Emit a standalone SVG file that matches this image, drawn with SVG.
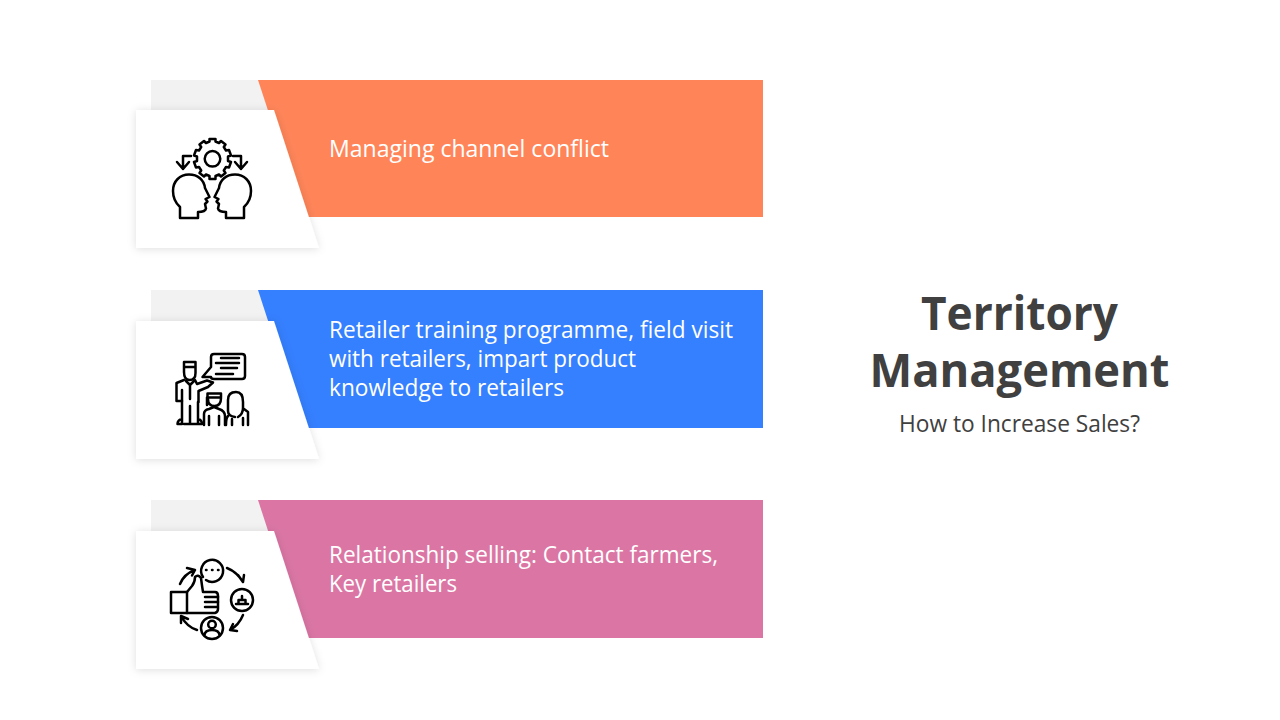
<svg xmlns="http://www.w3.org/2000/svg" width="1280" height="720" viewBox="0 0 1280 720">
<style>
.back{fill:#f2f2f2}
.card{fill:#fff;filter:url(#sh)}
.body{font-family:"Open Sans","Noto Sans",sans-serif;font-size:23px;fill:#fff}
.title{font-family:"Open Sans","Noto Sans",sans-serif;font-size:46px;font-weight:700;fill:#404040;text-anchor:middle}
.sub{font-family:"Open Sans","Noto Sans",sans-serif;font-size:23px;fill:#404040;text-anchor:middle}
.ic{fill:none;stroke:#000;stroke-width:2.500;stroke-linejoin:round;stroke-linecap:round}
</style>
<defs>
<filter id="sh" x="-20%" y="-20%" width="140%" height="140%"><feDropShadow dx="0" dy="1" stdDeviation="4" flood-color="#000" flood-opacity="0.13"/></filter>
<path id="head" d="M180 218V207C175.500 203 173 197 173 191C173 181 180 174.500 189 174.500C198 174.500 204 180 205 188L209.500 197L205.500 199L207.500 201.500L205 204L206 208.500C205.500 211 203 212 198 212V218Z"/>
</defs>
<rect width="1280" height="720" fill="#fff"/>

<g id="node-1">
<rect class="back" x="151" y="80" width="125" height="40"/>
<polygon points="258,80 763,80 763,217 303,217" fill="#ff8559"/>
<polygon class="card" points="136,110 274,110 319,248 136,248"/>
<g class="ic">
<path d="M228 161L231 162L229 167.500L226 167L223.800 170.500L225.500 173L221 176.500L219 174.500L215.500 176V179H209.500V176L206 174.500L204 176.500L199.500 173L201.200 170.500L199 167L196 167.500L194 162L197 161V156.500L194 155.500L196 150L199 150.500L201.200 147L199.500 144.500L204 141L206 143L209.500 141.500V139H215.500V141.500L219 143L221 141L225.500 144.500L223.800 147L226 150.500L229 150L231 155.500L228 156.500Z"/>
<circle cx="212.500" cy="158.800" r="7.800"/>
<use href="#head"/>
<use href="#head" transform="matrix(-1 0 0 1 424 0)"/>
<path d="M191 156H183V169M177 162L183 169L189 162"/>
<path d="M233 156H241V169M235 162L241 169L247 162"/>
</g>
<text class="body" x="329" y="157" textLength="280" lengthAdjust="spacingAndGlyphs">Managing channel conflict</text>
</g>

<g id="node-2">
<rect class="back" x="151" y="290" width="125" height="41"/>
<polygon points="258,290 763,290 763,428 303,428" fill="#3580ff"/>
<polygon class="card" points="136,321 274,321 319,459 136,459"/>
<g class="ic">
<path d="M211 367V357Q211 354 214 354H242Q245 354 245 357V376Q245 379 242 379H214Q211 379 211 377H202.500L211 367Z"/>
<path d="M221 358H239M216 363H239M221 368H237M216 374H233"/>
<path d="M184 372V362H195.500V367H184M195.500 367V373Q195.500 380 189.500 380Q184 380 184 372"/>
<path d="M184 380L176.500 383V401H182V390M195 380L197 384L207 380.500L213 382.500L208 387L198.500 391V402"/>
<path d="M186 381L190 385L194 381M190 385V399"/>
<path d="M182 401V424M198 402V424M190 406V424M182 424H177.500Q177.500 420 182 419M190 424H184M190 424H193M198 419Q202 420 202 424H193"/>
<path d="M207 405V397.500H221V393.500H207.500V397.500M208 399Q208 406 214.500 406Q221 406 221 398"/>
<path d="M204 425V414Q204 410 209 409L214 407L219 409Q225 411 225 416V425M209 416V425M219 416V425"/>
<path d="M228 411V400Q228 392 236 392Q243 392 243 402V408M228 411Q228 416 235 417M238 417Q243 414 243 408"/>
<path d="M244 409L248 412V425M228 416Q226 418 226 425M232 419V425M243 418V425"/>
</g>
<text class="body" x="329" y="338" textLength="404" lengthAdjust="spacingAndGlyphs">Retailer training programme, field visit</text>
<text class="body" x="329" y="367" textLength="307" lengthAdjust="spacingAndGlyphs">with retailers, impart product</text>
<text class="body" x="329" y="396" textLength="235" lengthAdjust="spacingAndGlyphs">knowledge to retailers</text>
</g>

<g id="node-3">
<rect class="back" x="151" y="500" width="125" height="41"/>
<polygon points="258,500 763,500 763,638 303,638" fill="#db76a4"/>
<polygon class="card" points="136,531 274,531 319,669 136,669"/>
<g class="ic">
<path d="M203 577A11 11 0 1 1 206 580"/>
<circle cx="242" cy="600" r="11"/>
<circle cx="212" cy="628" r="11"/>
<path d="M206 570H206.500M212 570H212.500M218 570H218.500"/>
<path d="M236 604H248M238.500 604V600H242V596M242 600H245.500V604"/>
<circle cx="212" cy="624.500" r="3.800"/>
<path d="M204.500 635Q205 630 212 630Q219 630 219.500 635"/>
<rect x="171" y="592" width="16" height="21"/>
<path d="M187 592L192 586Q195 582 195 577Q198 574 201 578Q202 586 203 592H215Q218 592 218 596V609Q218 612 215 613H187"/>
<path d="M205 597H218M205 602H218M205 607H217"/>
<path d="M180 584Q184 574 195 570M187 568L195 570L192 575.500"/>
<path d="M227 568Q237 572 243 582M238 575L243 582L244 575"/>
<path d="M243 615Q239 625 230 630M237 631L230 630L233 624"/>
<path d="M197 630Q187 627 181 616M181 623L181 616L188 619"/>
</g>
<text class="body" x="329" y="563" textLength="389" lengthAdjust="spacingAndGlyphs">Relationship selling: Contact farmers,</text>
<text class="body" x="329" y="592" textLength="128" lengthAdjust="spacingAndGlyphs">Key retailers</text>
</g>

<g id="heading">
<text class="title" x="1019.500" y="330" textLength="197" lengthAdjust="spacingAndGlyphs">Territory</text>
<text class="title" x="1019.500" y="387" textLength="300" lengthAdjust="spacingAndGlyphs">Management</text>
<text class="sub" x="1019.500" y="432" textLength="241" lengthAdjust="spacingAndGlyphs">How to Increase Sales?</text>
</g>
</svg>
